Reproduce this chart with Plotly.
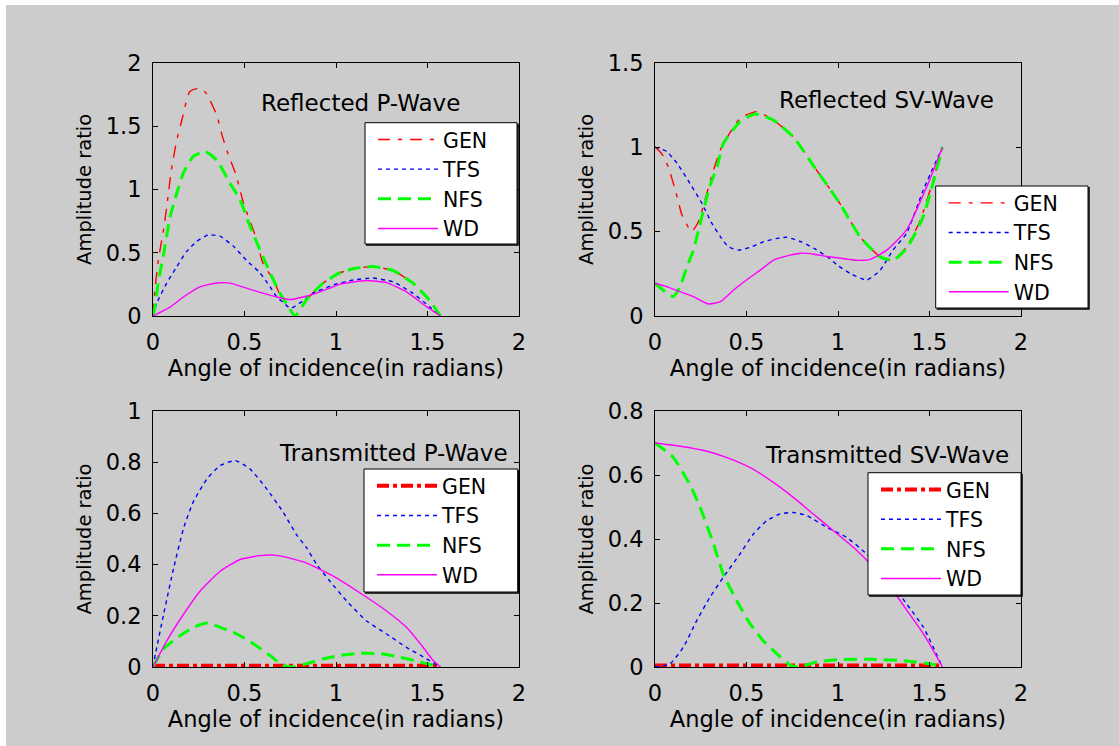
import plotly.graph_objects as go

# ---------------- data ----------------
series_names = ["GEN", "TFS", "NFS", "WD"]
x_ticks = [0, 0.5, 1, 1.5, 2]

# Reflected P-Wave
rp_gen_x = [0, 0.01, 0.03, 0.06, 0.08, 0.10, 0.13, 0.16, 0.20, 0.255, 0.29, 0.35, 0.375, 0.41, 0.45, 0.495, 0.56, 0.60, 0.66, 0.69, 0.73, 0.776,
            0.84, 0.93, 1.02, 1.10, 1.20, 1.31, 1.42, 1.51, 1.5708]
rp_gen_y = [0, 0.20, 0.45, 0.70, 0.92, 1.15, 1.39, 1.56, 1.77, 1.80, 1.76, 1.58, 1.44, 1.28, 1.13, 0.89, 0.63, 0.42, 0.28, 0.18, 0.09, 0.0,
            0.13, 0.26, 0.34, 0.375, 0.39, 0.36, 0.26, 0.126, 0]
rp_tfs_x = [0, 0.02, 0.075, 0.13, 0.184, 0.24, 0.30, 0.366, 0.44, 0.51, 0.585, 0.64, 0.676, 0.71, 0.75, 0.80, 0.876, 0.985, 1.095, 1.20, 1.31, 1.42, 1.51, 1.5708]
rp_tfs_y = [0, 0.10, 0.26, 0.39, 0.51, 0.59, 0.64, 0.63, 0.55, 0.44, 0.34, 0.23, 0.15, 0.11, 0.06, 0.10, 0.18, 0.245, 0.284, 0.30, 0.27, 0.18, 0.074, 0]
rp_nfs_x = [0, 0.01, 0.03, 0.056, 0.093, 0.13, 0.166, 0.22, 0.284, 0.348, 0.42, 0.475, 0.53, 0.585, 0.64, 0.694, 0.74, 0.776,
            0.84, 0.93, 1.02, 1.10, 1.20, 1.31, 1.42, 1.51, 1.5708]
rp_nfs_y = [0, 0.07, 0.28, 0.47, 0.78, 0.97, 1.13, 1.26, 1.30, 1.23, 1.05, 0.92, 0.71, 0.52, 0.34, 0.18, 0.074, 0.0,
            0.13, 0.26, 0.34, 0.375, 0.39, 0.36, 0.26, 0.126, 0]
rp_wd_x = [0, 0.093, 0.166, 0.257, 0.348, 0.42, 0.51, 0.60, 0.676, 0.75, 0.82, 0.894, 1.02, 1.167, 1.276, 1.385, 1.495, 1.5708]
rp_wd_y = [0, 0.07, 0.15, 0.23, 0.26, 0.26, 0.22, 0.18, 0.15, 0.13, 0.15, 0.18, 0.25, 0.28, 0.263, 0.19, 0.074, 0]

# Reflected SV-Wave
rs_gen_x = [0, 0.03, 0.055, 0.082, 0.115, 0.147, 0.20, 0.238, 0.31, 0.36, 0.464, 0.555, 0.647, 0.756, 0.883, 1.01, 1.12, 1.23, 1.30, 1.375, 1.45, 1.52, 1.5708]
rs_gen_y = [1.0, 0.97, 0.93, 0.85, 0.73, 0.60, 0.50, 0.56, 0.83, 0.99, 1.17, 1.21, 1.16, 1.06, 0.864, 0.667, 0.47, 0.35, 0.33, 0.41, 0.568, 0.805, 1.0]
rs_tfs_x = [0, 0.064, 0.12, 0.19, 0.256, 0.31, 0.357, 0.40, 0.458, 0.52, 0.595, 0.668, 0.72, 0.797, 0.87, 0.943, 0.998, 1.07, 1.157, 1.23, 1.30, 1.375, 1.466, 1.5708]
rs_tfs_y = [1.0, 0.974, 0.905, 0.787, 0.668, 0.55, 0.47, 0.41, 0.39, 0.407, 0.44, 0.46, 0.466, 0.44, 0.40, 0.35, 0.30, 0.25, 0.213, 0.27, 0.39, 0.49, 0.746, 1.0]
rs_nfs_x = [0, 0.055, 0.10, 0.137, 0.174, 0.21, 0.238, 0.266, 0.30, 0.34, 0.373, 0.464, 0.546, 0.647, 0.756, 0.883, 1.01, 1.12, 1.23, 1.30, 1.375, 1.466, 1.5708]
rs_nfs_y = [0.194, 0.144, 0.115, 0.174, 0.29, 0.39, 0.51, 0.63, 0.77, 0.885, 1.02, 1.15, 1.196, 1.16, 1.06, 0.864, 0.667, 0.47, 0.35, 0.33, 0.40, 0.59, 1.0]
rs_wd_x = [0, 0.064, 0.137, 0.21, 0.293, 0.357, 0.43, 0.50, 0.577, 0.65, 0.723, 0.797, 0.87, 0.943, 1.016, 1.10, 1.175, 1.266, 1.375, 1.485, 1.5708]
rs_wd_y = [0.194, 0.174, 0.144, 0.115, 0.071, 0.085, 0.154, 0.213, 0.273, 0.332, 0.356, 0.372, 0.366, 0.352, 0.342, 0.33, 0.335, 0.39, 0.51, 0.766, 1.0]

# Transmitted P-Wave
tp_gen_x = [0, 1.5708]
tp_gen_y = [0.005, 0.005]
tp_tfs_x = [0, 0.013, 0.058, 0.113, 0.167, 0.22, 0.295, 0.367, 0.45, 0.53, 0.62, 0.71, 0.785, 0.84, 0.895, 0.967, 1.058, 1.167, 1.276, 1.385, 1.495, 1.5708]
tp_tfs_y = [0, 0.05, 0.206, 0.387, 0.542, 0.645, 0.735, 0.787, 0.806, 0.774, 0.697, 0.606, 0.516, 0.465, 0.40, 0.335, 0.258, 0.18, 0.129, 0.077, 0.032, 0]
tp_nfs_x = [0, 0.058, 0.149, 0.22, 0.295, 0.367, 0.458, 0.55, 0.64, 0.71, 0.767, 0.84, 0.93, 1.02, 1.13, 1.24, 1.35, 1.46, 1.5708]
tp_nfs_y = [0, 0.071, 0.123, 0.155, 0.172, 0.155, 0.129, 0.09, 0.045, 0.006, 0, 0.013, 0.032, 0.045, 0.054, 0.052, 0.039, 0.019, 0]
tp_wd_x = [0, 0.076, 0.167, 0.258, 0.367, 0.476, 0.585, 0.658, 0.71, 0.84, 0.985, 1.13, 1.276, 1.385, 1.476, 1.53, 1.5708]
tp_wd_y = [0, 0.103, 0.206, 0.297, 0.374, 0.42, 0.435, 0.437, 0.432, 0.406, 0.355, 0.29, 0.219, 0.155, 0.077, 0.026, 0]

# Transmitted SV-Wave
ts_gen_x = [0, 1.5708]
ts_gen_y = [0.005, 0.005]
ts_tfs_x = [0, 0.082, 0.155, 0.228, 0.30, 0.373, 0.464, 0.537, 0.61, 0.683, 0.756, 0.83, 0.94, 1.047, 1.157, 1.266, 1.375, 1.466, 1.52, 1.5708]
ts_tfs_y = [0, 0.01, 0.062, 0.145, 0.218, 0.28, 0.353, 0.415, 0.457, 0.478, 0.483, 0.473, 0.436, 0.405, 0.353, 0.28, 0.197, 0.125, 0.062, 0]
ts_nfs_x = [0, 0.10, 0.19, 0.246, 0.32, 0.373, 0.446, 0.52, 0.59, 0.665, 0.74, 0.79, 0.883, 1.01, 1.19, 1.375, 1.50, 1.5708]
ts_nfs_y = [0.7, 0.655, 0.57, 0.50, 0.384, 0.29, 0.208, 0.135, 0.083, 0.042, 0.005, 0, 0.016, 0.023, 0.024, 0.019, 0.01, 0]
ts_wd_x = [0, 0.137, 0.28, 0.39, 0.52, 0.647, 0.756, 0.865, 0.975, 1.084, 1.193, 1.30, 1.39, 1.466, 1.52, 1.5708]
ts_wd_y = [0.7, 0.69, 0.675, 0.655, 0.623, 0.577, 0.53, 0.478, 0.426, 0.374, 0.312, 0.239, 0.166, 0.104, 0.052, 0]

panel_titles = ["Reflected P-Wave", "Reflected SV-Wave", "Transmitted P-Wave", "Transmitted SV-Wave"]
y_ranges = [[0, 2], [0, 1.5], [0, 1], [0, 0.8]]
y_dticks = [0.5, 0.5, 0.2, 0.2]
x_title = "Angle of incidence(in radians)"
y_title = "Amplitude ratio"

# ---------------- layout geometry ----------------
W, H = 1119, 746
FONT = "DejaVu Sans"
FS = 22.5
LFS = 20.5

def px(x):
    return x / W

def py(y):
    return 1 - y / H

# axes boxes in pixels (left, right, top, bottom)
boxes = [(153, 519, 62.7, 316), (655, 1021, 62.7, 316), (153, 519, 411, 667), (655, 1021, 411, 667)]
# legend boxes in pixels (left, right, top, bottom)
legend_boxes = [(365, 517, 122.7, 244), (935.7, 1088, 186, 308), (364, 517.7, 469, 592), (868, 1021, 472.7, 595)]
title_pos = [(361, 103), (886.5, 100), (393.5, 453), (887, 455)]

panels = [
    (rp_gen_x, rp_gen_y, rp_tfs_x, rp_tfs_y, rp_nfs_x, rp_nfs_y, rp_wd_x, rp_wd_y),
    (rs_gen_x, rs_gen_y, rs_tfs_x, rs_tfs_y, rs_nfs_x, rs_nfs_y, rs_wd_x, rs_wd_y),
    (tp_gen_x, tp_gen_y, tp_tfs_x, tp_tfs_y, tp_nfs_x, tp_nfs_y, tp_wd_x, tp_wd_y),
    (ts_gen_x, ts_gen_y, ts_tfs_x, ts_tfs_y, ts_nfs_x, ts_nfs_y, ts_wd_x, ts_wd_y),
]

fig = go.Figure()

for i, p in enumerate(panels):
    n = "" if i == 0 else str(i + 1)
    xa, ya = "x" + n, "y" + n
    leg = "legend" + n
    thick_gen = i >= 2
    styles = [
        dict(color="#ff0000", width=4 if thick_gen else 1.4,
             dash="12px,4px,4px,4px" if thick_gen else "12px,8px,4px,8px"),
        dict(color="#0000ff", width=1.4, dash="4px,4px"),
        dict(color="#00ff00", width=3, dash="13px,7px"),
        dict(color="#ff00ff", width=1.4),
    ]
    for k in range(4):
        st = dict(styles[k])
        st["shape"] = "spline"
        st["smoothing"] = 0.5
        fig.add_trace(go.Scatter(
            x=p[2 * k], y=p[2 * k + 1], mode="lines", name=series_names[k],
            line=st, xaxis=xa, yaxis=ya, legend=leg, showlegend=True,
        ))

    l, r, t, b = boxes[i]
    axis_common = dict(
        showline=True, linecolor="black", linewidth=1, mirror="allticks",
        ticks="inside", ticklen=5, tickcolor="black", tickwidth=1,
        showgrid=False, zeroline=False,
        tickfont=dict(family=FONT, size=FS, color="black"),
    )
    fig.layout["xaxis" + n] = dict(
        domain=[px(l), px(r)], anchor=ya, range=[0, 2], tickvals=x_ticks,
        title=dict(text=x_title, font=dict(family=FONT, size=FS, color="black"), standoff=4),
        ticklabelstandoff=6, **axis_common,
    )
    fig.layout["yaxis" + n] = dict(
        domain=[py(b), py(t)], anchor=xa, range=y_ranges[i], dtick=y_dticks[i], tick0=0,
        title=dict(text=y_title, font=dict(family=FONT, size=19.5, color="black"), standoff=8),
        ticklabelstandoff=6, **axis_common,
    )

    # legend frame (drawn above the curves), plotly legend entries on top of it
    bl, br, bt, bb = legend_boxes[i]
    fig.add_shape(type="rect", xref="paper", yref="paper", x0=px(bl), x1=px(br), y0=py(bb), y1=py(bt),
                  fillcolor="white", line=dict(color="black", width=1), layer="above")
    fig.add_shape(type="path", xref="paper", yref="paper",
                  path=f"M {px(br + 1)} {py(bt + 1)} L {px(br + 1)} {py(bb + 1)} L {px(bl + 1)} {py(bb + 1)}",
                  line=dict(color="black", width=1.5), layer="above")
    fig.layout[leg] = dict(
        x=px(bl + 8), y=py(bt - 3), xanchor="left", yanchor="top",
        bgcolor="rgba(0,0,0,0)", borderwidth=0,
        font=dict(family=FONT, size=LFS, color="black"),
        tracegroupgap=0, itemclick=False, itemwidth=60,
    )
    tx, ty = title_pos[i]
    fig.add_annotation(
        text=panel_titles[i], x=px(tx), y=py(ty), xref="paper", yref="paper",
        xanchor="center", yanchor="middle", showarrow=False,
        font=dict(family=FONT, size=23, color="black"),
    )
    # white plot area
    fig.add_shape(type="rect", xref="paper", yref="paper", x0=px(l), x1=px(r), y0=py(b), y1=py(t),
                  fillcolor="white", line=dict(width=0), layer="below")

# gray figure background (thin white strip at top/left edges)
fig.add_shape(type="rect", xref="paper", yref="paper", x0=px(6), x1=1, y0=0, y1=py(5),
              fillcolor="#cccccc", line=dict(width=0), layer="below")

fig.update_layout(
    autosize=True, margin=dict(l=0, r=0, t=0, b=0, autoexpand=False),
    paper_bgcolor="white", plot_bgcolor="rgba(0,0,0,0)",
    font=dict(family=FONT, size=FS, color="black"),
)

fig.write_html(
    "out.html",
    default_width="100vw", default_height="100vh",
    config={"displayModeBar": False},
    post_script="document.body.style.margin='0';document.body.style.overflow='hidden';",
)
